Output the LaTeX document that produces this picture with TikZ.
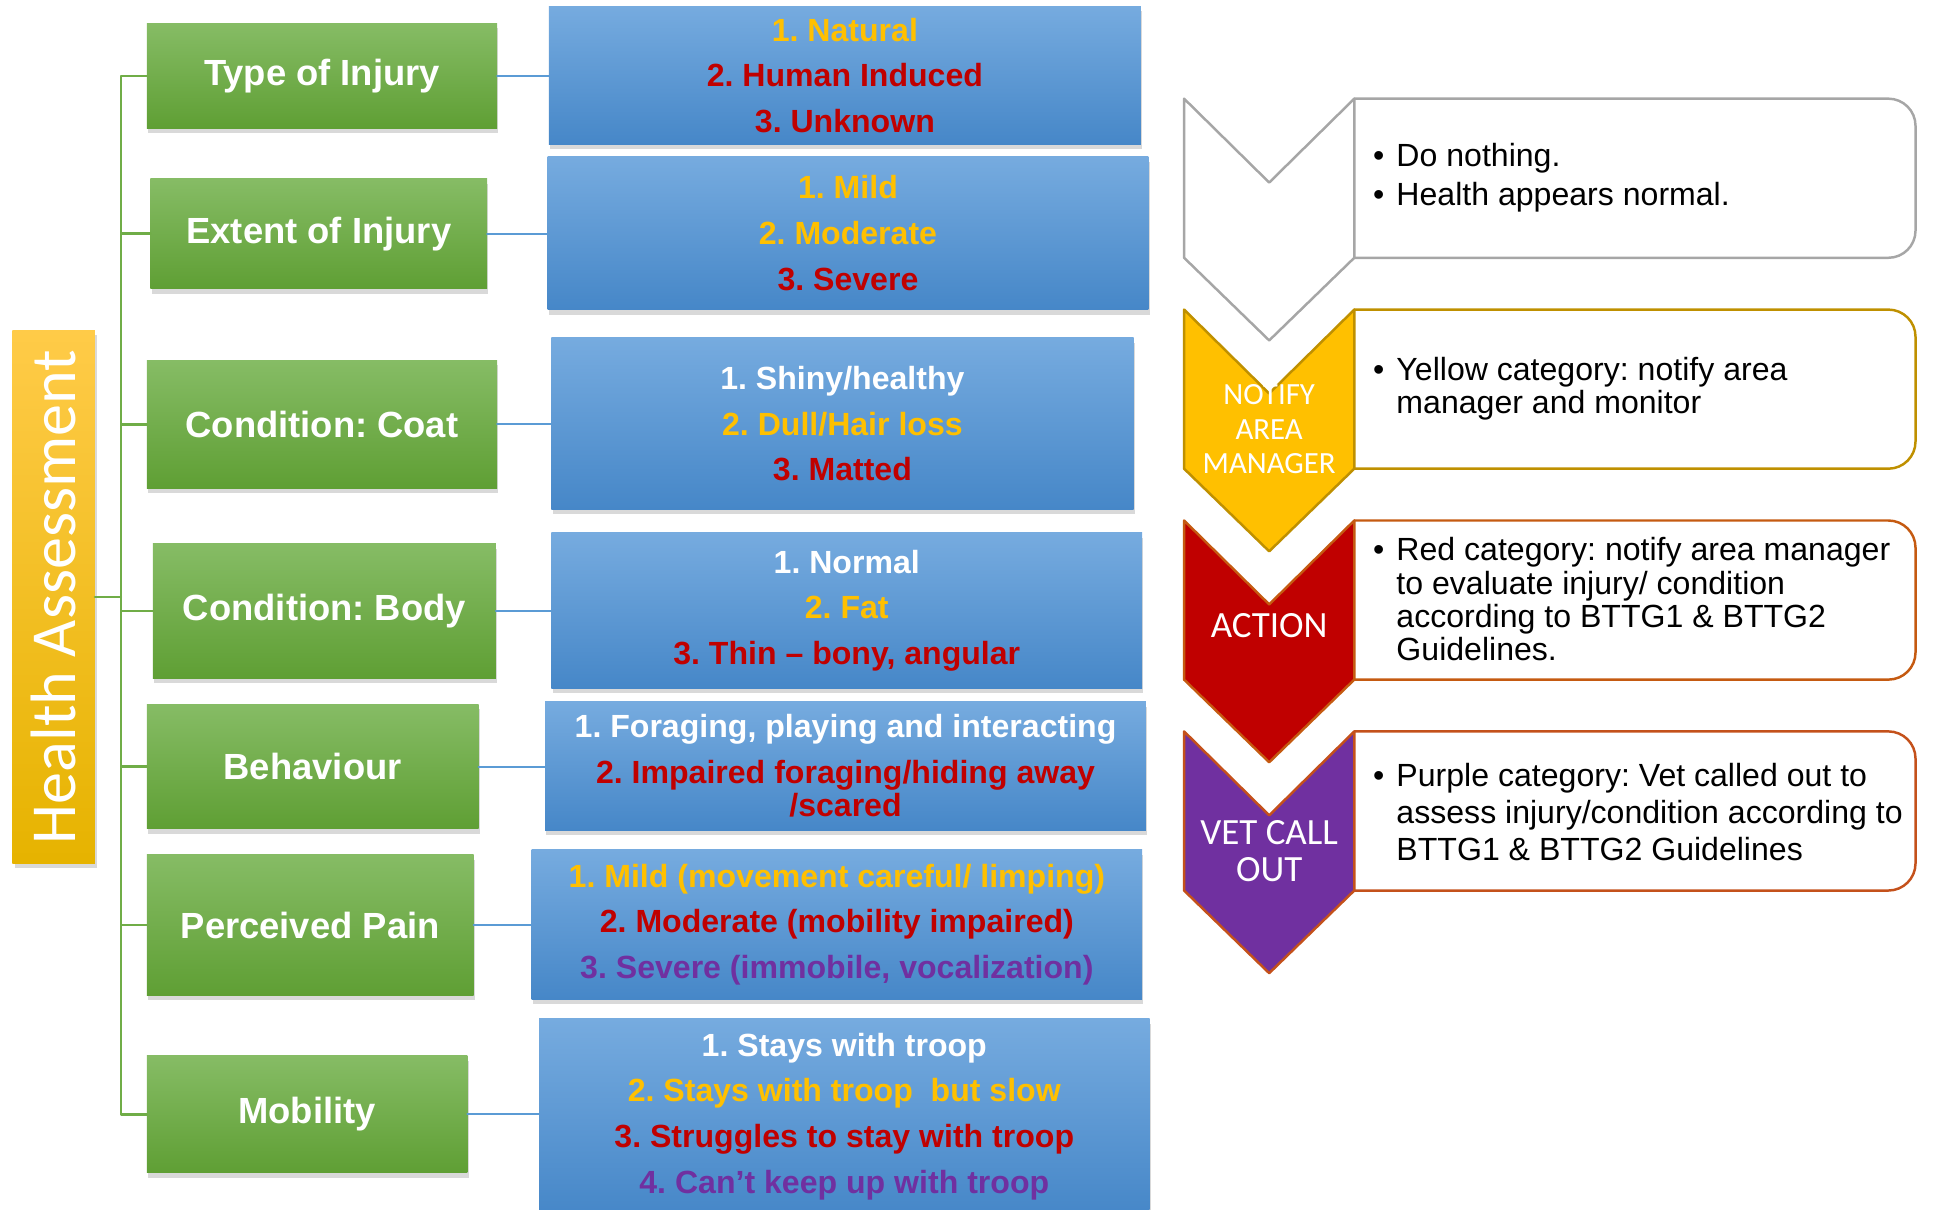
\documentclass[tikz,border=0pt]{standalone}
\usepackage{fontspec}
\usepackage{graphicx}
\setmainfont{Liberation Sans}
\newfontfamily\calib{Carlito}
\usetikzlibrary{shadows}
\definecolor{yel}{HTML}{FFC000}
\definecolor{rd}{HTML}{C00000}
\definecolor{pur}{HTML}{7030A0}
\definecolor{grtop}{HTML}{86BC65}
\definecolor{grbot}{HTML}{5F9F34}
\definecolor{bltop}{HTML}{76ABDF}
\definecolor{blbot}{HTML}{4687C8}
\definecolor{ortop}{HTML}{FFCB48}
\definecolor{orbot}{HTML}{E6B300}
\definecolor{grline}{HTML}{70AD47}
\definecolor{blline}{HTML}{5B9BD5}
\definecolor{gyline}{HTML}{A6A6A6}
\definecolor{yeline}{HTML}{BF9000}
\definecolor{rdline}{HTML}{C55A11}
\definecolor{puline}{HTML}{C4511B}
\newcommand{\bulit}{\makebox[19pt][l]{\textbullet}}
\frenchspacing
\begin{document}
\begin{tikzpicture}[x=1pt,y=-1pt,line join=round,line cap=round,
 cat/.style={inner sep=0pt,outer sep=0pt,top color=grtop,bottom color=grbot,text=white,
  font=\fontsize{29.5}{34}\selectfont\bfseries,drop shadow={opacity=.3,shadow xshift=1pt,shadow yshift=-4pt}},
 opt/.style={inner sep=0pt,outer sep=0pt,top color=bltop,bottom color=blbot,text=white,align=center,
  font=\fontsize{26}{37}\selectfont\bfseries,drop shadow={opacity=.3,shadow xshift=1pt,shadow yshift=-4pt}},
 tree/.style={draw=grline,line width=2pt},
 link/.style={draw=blline,line width=1.6pt},
 tag/.style={text=white,align=center,inner sep=0pt,font=\calib\fontsize{25}{28}\selectfont},
 note/.style={anchor=west,align=left,inner sep=0pt,font=\fontsize{26}{27}\selectfont}]
\useasboundingbox (0,0) rectangle (1568,981);
%\draw[color=gray!50,dashed,step=50] (0,0) grid (1568,981);
\node[inner sep=0pt,outer sep=0pt,top color=ortop,middle color=yel,bottom color=orbot,minimum width=67pt,minimum height=432pt,
 text=white,font=\calib\fontsize{52}{52}\selectfont,drop shadow={opacity=.3,shadow xshift=2pt,shadow yshift=-4pt}] (ha) at (43.5,484) {\rotatebox{90}{Health Assessment}};
\node[cat,minimum width=284pt,minimum height=85pt] (g1) at (261,61.5) {Type of Injury};
\node[cat,minimum width=273pt,minimum height=89pt] (g2) at (258.5,189.5) {Extent of Injury};
\node[cat,minimum width=284pt,minimum height=104pt] (g3) at (261,344) {Condition: Coat};
\node[cat,minimum width=278pt,minimum height=109pt] (g4) at (263,495.5) {Condition: Body};
\node[cat,minimum width=269pt,minimum height=101pt] (g5) at (253.5,621.5) {Behaviour};
\node[cat,minimum width=265pt,minimum height=114pt] (g6) at (251.5,750) {Perceived Pain};
\node[cat,minimum width=260pt,minimum height=95pt] (g7) at (249,903.5) {Mobility};
\node[opt,minimum width=480pt,minimum height=112pt] (b1) at (685,61) {\textcolor{yel}{1. Natural}\\\textcolor{rd}{2. Human Induced}\\\textcolor{rd}{3. Unknown}};
\node[opt,minimum width=487pt,minimum height=124pt] (b2) at (687.5,189) {\textcolor{yel}{1. Mild}\\\textcolor{yel}{2. Moderate}\\\textcolor{rd}{3. Severe}};
\node[opt,minimum width=472pt,minimum height=139pt] (b3) at (683,343.5) {1. Shiny/healthy\\\textcolor{yel}{2. Dull/Hair loss}\\\textcolor{rd}{3. Matted}};
\node[opt,minimum width=479pt,minimum height=126pt] (b4) at (686.5,495) {1. Normal\\\textcolor{yel}{2. Fat}\\\textcolor{rd}{3. Thin – bony, angular}};
\node[opt,minimum width=487pt,minimum height=104pt] (b5) at (685.5,621) {1. Foraging, playing and interacting\\\textcolor{rd}{2. Impaired foraging/hiding away}\\[-10pt]\textcolor{rd}{/scared}};
\node[opt,minimum width=495pt,minimum height=121pt] (b6) at (678.5,749.5) {\textcolor{yel}{1. Mild (movement careful/ limping)}\\\textcolor{rd}{2. Moderate (mobility impaired)}\\\textcolor{pur}{3. Severe (immobile, vocalization)}};
\node[opt,minimum width=495pt,minimum height=158pt] (b7) at (684.5,905) {1. Stays with troop\\\textcolor{yel}{2. Stays with troop~ but slow}\\\textcolor{rd}{3. Struggles to stay with troop}\\\textcolor{pur}{4. Can’t keep up with troop}};
\draw[tree] (ha.east) -- (98,484) coordinate (hub);
\foreach \i in {1,...,7}{
 \draw[tree] (g\i.west) -| (hub);
 \draw[link] (g\i.east) -- (g\i.east -| b\i.west);
}
\foreach \t/\fc/\lc in {80/white/gyline,251/yel/yeline,422/rd/rdline,593/pur/puline}{
 \filldraw[fill=\fc,draw=\lc,line width=2pt] (960,\t) -- (1029,\t+68) -- (1098,\t) -- (1098,\t+129) -- (1029,\t+196) -- (960,\t+129) -- cycle;
 \draw[draw=\lc,line width=2pt,rounded corners=22pt] (1098,\t) -- (1553,\t) -- (1553,\t+129) -- (1098,\t+129);
}
\node[tag] (c2) at (1029,348) {NOTIFY\\AREA\\MANAGER};
\node[tag,font=\calib\fontsize{30}{30}\selectfont] (c3) at (1029,507) {ACTION};
\node[tag,font=\calib\fontsize{30}{30}\selectfont] (c4) at (1029,690) {VET CALL\\OUT};
\node[note] (n1) at (1113,144) {\bulit Do nothing.\\[5pt]\bulit Health appears normal.};
\node[note] (n2) at (1113,315) {\bulit Yellow category: notify area\\\hspace*{19pt}manager and monitor};
\node[note] (n3) at (1113,486) {\bulit Red category: notify area manager\\\hspace*{19pt}to evaluate injury/ condition\\\hspace*{19pt}according to BTTG1 \& BTTG2\\\hspace*{19pt}Guidelines.};
\node[note] (n4) at (1113,658) {\bulit Purple category: Vet called out to\\[3pt]\hspace*{19pt}assess injury/condition according to\\[3pt]\hspace*{19pt}BTTG1 \& BTTG2 Guidelines};
\end{tikzpicture}
\end{document}
